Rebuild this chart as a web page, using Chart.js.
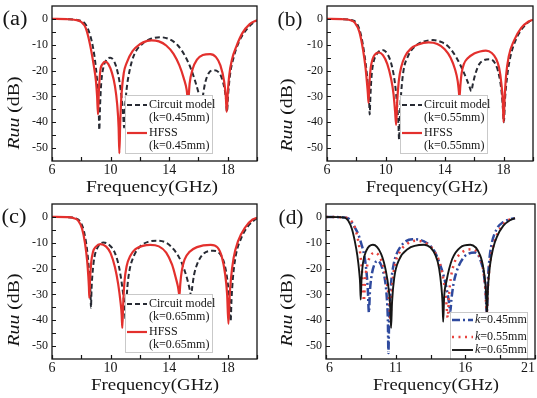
<!DOCTYPE html>
<html><head><meta charset="utf-8">
<script src="https://cdn.jsdelivr.net/npm/chart.js@4.4.1/dist/chart.umd.min.js"></script>
<style>
html,body{margin:0;padding:0;background:#fff;}
body{width:537px;height:398px;position:relative;overflow:hidden;}
canvas{position:absolute;}
</style></head>
<body>
<canvas id="ca" width="268" height="199" style="left:0;top:0"></canvas>
<canvas id="cb" width="269" height="199" style="left:268px;top:0"></canvas>
<canvas id="cc" width="268" height="200" style="left:0;top:198px"></canvas>
<canvas id="cd" width="269" height="200" style="left:268px;top:198px"></canvas>
<script>
// ---------- DATA ----------
const xMajorABC = [6, 10, 14, 18];
const xMinorABC = [8, 12, 16, 20];
const xMajorD = [6, 11, 16, 21];
const xMinorD = [8.5, 13.5, 18.5];
const yMajor = [0, -10, -20, -30, -40, -50];
const yMinor = [-5, -15, -25, -35, -45];

// (a) k = 0.45 mm
const fA_circuit = [6,7,7.8,8.2,8.5,8.8,9.0,9.12,9.19,9.23,9.28,9.36,9.5,9.7,9.98,10.25,10.5,10.68,10.8,10.87,10.92,10.98,11.1,11.3,11.6,12.2,12.8,13.4,14.0,14.6,15.1,15.5,15.8,16.0,16.15,16.22,16.3,16.45,16.7,17.0,17.35,17.6,17.78,17.88,17.95,18.02,18.15,18.4,18.8,19.3,19.8,20];
const dbA_circuit = [0,-0.1,-0.5,-1.5,-4.5,-11,-19,-27,-35,-43,-34,-25,-19,-16,-15,-16.5,-21,-27,-33,-38,-42,-35,-27,-20,-14,-9.5,-7.6,-7.1,-7.8,-10.3,-14.5,-19.5,-24.5,-28.5,-32,-33,-30,-25,-21,-19.9,-20.5,-23,-27,-31,-36,-30,-22,-15,-8.5,-4,-1.2,-0.6];
const fA_hfss = [6,7,7.6,8.0,8.3,8.6,8.85,9.0,9.08,9.14,9.2,9.3,9.45,9.64,9.85,10.1,10.3,10.45,10.55,10.6,10.66,10.75,10.9,11.1,11.5,12.0,12.5,12.8,13.3,13.8,14.3,14.7,15.0,15.2,15.3,15.4,15.6,15.9,16.3,16.8,17.2,17.5,17.75,17.87,17.93,18.0,18.1,18.3,18.6,19.0,19.5,20];
const dbA_hfss = [0,-0.1,-0.4,-1.2,-3.5,-10,-18,-24,-30,-37,-28,-20,-17.5,-16.5,-17.5,-21,-26,-33,-42,-52,-40,-29,-21,-17,-12.5,-9.8,-8.5,-8.3,-8.7,-10.3,-13.5,-18,-23,-27.5,-32,-25,-19.5,-15.8,-14,-13.6,-14.8,-18,-24,-30,-36,-29,-22,-15.5,-10.5,-5.5,-2,-0.5];

// (b) k = 0.55 mm
const fB_circuit = [6,7,7.7,8.05,8.3,8.55,8.72,8.82,8.87,8.9,8.95,9.03,9.15,9.4,9.77,10.1,10.4,10.62,10.76,10.85,10.9,10.95,11.05,11.2,11.5,12.0,12.6,13.2,13.8,14.3,14.8,15.2,15.5,15.7,15.8,15.92,16.1,16.35,16.65,17.05,17.4,17.7,17.88,17.96,18.02,18.1,18.25,18.45,18.8,19.3,19.8,20];
const dbB_circuit = [0,-0.1,-0.5,-2,-6,-14,-22,-29,-33,-37,-30,-22,-17,-13.5,-12,-13.5,-18,-25,-33,-40,-46.7,-38,-28,-20,-14.5,-10.5,-8.7,-8.2,-9,-11,-15,-19.5,-23.5,-26.5,-28,-25,-21,-17.5,-16,-15.6,-17,-22,-29,-35,-40,-31,-22,-15,-8.5,-3.5,-0.8,-0.3];
const fB_hfss = [6,7,7.6,7.9,8.2,8.45,8.62,8.72,8.78,8.82,8.88,8.97,9.1,9.25,9.5,9.8,10.1,10.35,10.52,10.63,10.7,10.77,10.88,11.05,11.3,11.7,12.2,12.9,13.5,14.0,14.4,14.7,14.88,14.96,15.0,15.06,15.15,15.3,15.6,16.0,16.4,16.8,17.2,17.5,17.7,17.85,17.95,18.0,18.07,18.17,18.35,18.7,19.2,19.7,20];
const dbB_hfss = [0,-0.1,-0.5,-1.5,-5,-12,-19,-25,-29,-32.5,-25,-19,-15.5,-13.8,-13,-14,-17.5,-23,-29,-36,-41,-32,-24,-18.5,-14.5,-11.5,-9.9,-9.1,-9.7,-11.7,-15,-19.5,-24,-28,-30.5,-26,-21,-17.5,-15,-13.4,-12.6,-12.3,-13.2,-15.5,-19,-25,-32,-40,-31,-22,-14.5,-8.5,-3.5,-1,-0.3];

// (c) k = 0.65 mm
const fC_circuit = [6,7,7.6,7.95,8.2,8.4,8.52,8.6,8.64,8.66,8.7,8.78,8.9,9.1,9.5,9.9,10.3,10.6,10.82,10.94,11.0,11.02,11.07,11.15,11.3,11.6,12.0,12.6,13.2,13.8,14.3,14.8,15.1,15.3,15.42,15.5,15.58,15.7,15.9,16.3,17.0,17.5,17.85,18.05,18.15,18.2,18.26,18.35,18.55,18.9,19.4,19.9,20];
const dbC_circuit = [0,-0.1,-0.5,-2,-6,-13,-20,-26,-31,-35.2,-28,-21,-15.5,-12,-9.9,-10.8,-14,-20,-28,-34,-38,-40,-34,-27,-20.5,-15,-11.5,-9.6,-9.2,-10,-12.5,-17,-21.5,-25.5,-28.5,-30.5,-27,-22.5,-18.5,-14.5,-13.1,-14.5,-20,-28,-35,-40.4,-32,-24,-15,-8.5,-3.5,-0.9,-0.6];
const fC_hfss = [6,7,7.5,7.8,8.05,8.25,8.4,8.48,8.52,8.55,8.6,8.68,8.8,9.0,9.3,9.7,10.0,10.3,10.52,10.68,10.76,10.8,10.86,10.95,11.1,11.35,11.7,12.2,12.7,13.3,13.8,14.2,14.45,14.6,14.67,14.7,14.76,14.86,15.05,15.4,15.9,16.84,17.3,17.6,17.82,17.96,18.05,18.12,18.22,18.4,18.7,19.2,19.7,20];
const dbC_hfss = [0,-0.1,-0.5,-1.5,-4.5,-10,-17,-23,-27,-31.3,-24,-17.5,-13.5,-11.5,-10.5,-11.5,-14,-19.5,-26,-33,-38,-43,-34,-25,-19,-15,-12.5,-11.2,-10.8,-11.4,-13.8,-18.5,-23.5,-27,-29.5,-30.6,-26,-21,-16.5,-13.5,-11.7,-10.8,-11.8,-15.5,-22,-30,-41.4,-32,-24,-16,-9.5,-4,-1,-0.3];

// (d) comparison of k
const fD_045 = [6,7,7.6,7.9,8.06,8.3,8.54,8.75,8.9,9.0,9.08,9.15,9.25,9.48,9.72,9.95,10.1,10.25,10.36,10.44,10.48,10.53,10.6,10.7,10.85,11.02,11.5,12.2,13.04,13.75,14.22,14.5,14.7,14.85,14.92,15.0,15.15,15.35,15.88,16.71,17.18,17.35,17.47,17.54,17.6,17.7,17.85,18.25,18.73,19.2,19.56];
const dbD_045 = [0,-0.1,-0.6,-2.5,-4,-6.5,-10.5,-15,-21,-28,-37,-29,-23.5,-18.3,-17,-18.5,-21,-25,-31,-40,-52.7,-40,-31,-24,-18.5,-15,-10.5,-8.6,-9.5,-13,-19,-24,-29,-34,-36.8,-32,-26,-21.5,-15.7,-13.8,-18.3,-23,-30,-37.8,-27,-18,-11.5,-4.7,-2,-0.9,-0.5];
const fD_055 = [6,7,7.5,7.8,8.0,8.2,8.4,8.55,8.65,8.72,8.8,8.95,9.15,9.48,9.8,10.1,10.35,10.5,10.58,10.62,10.68,10.78,10.95,11.3,11.8,12.45,13.2,13.8,14.2,14.45,14.62,14.74,14.82,14.95,15.2,15.7,16.47,17.0,17.25,17.42,17.54,17.62,17.8,18.1,18.5,19.0,19.56];
const dbD_055 = [0,-0.1,-0.4,-1.5,-3,-6.5,-12,-19,-26,-32.6,-25,-19,-15.5,-13.8,-15,-19,-25,-31,-36,-40,-33,-25,-18.5,-13.5,-10.5,-9.2,-10.3,-13.5,-18.5,-25,-32,-39,-31,-24,-18,-14,-12.5,-15,-19.5,-27,-37,-27,-17,-9.5,-4.5,-1.5,-0.5];
const fD_065 = [6,7,7.35,7.6,7.85,8.06,8.25,8.38,8.45,8.49,8.55,8.65,8.9,9.37,9.96,10.3,10.5,10.6,10.67,10.74,10.9,11.26,11.85,13.04,13.87,14.12,14.28,14.36,14.41,14.48,14.65,15.05,15.64,16.36,17.07,17.3,17.44,17.5,17.55,17.62,17.77,18.0,18.25,18.73,19.2,19.56];
const dbD_065 = [0,-0.1,-0.3,-1.5,-4.5,-9.2,-15,-21,-26,-32,-24,-18,-13,-10.8,-14.4,-21,-28,-34,-43,-33,-23.5,-16.4,-12.5,-10.8,-15,-20,-27,-33,-40.6,-31,-24.8,-16.4,-11.8,-10.8,-15,-20,-26,-31,-37.8,-28,-18.8,-12,-7.9,-3.4,-1.3,-0.5];

// text
const panelLabels = ['(a)', '(b)', '(c)', '(d)'];
const xTitle = 'Frequency(GHz)';
const legendA = ['Circuit model', '(k=0.45mm)', 'HFSS', '(k=0.45mm)'];
const legendB = ['Circuit model', '(k=0.55mm)', 'HFSS', '(k=0.55mm)'];
const legendC = ['Circuit model', '(k=0.65mm)', 'HFSS', '(k=0.65mm)'];
const legendD = ['=0.45mm', '=0.55mm', '=0.65mm'];

// ---------- STYLE / DRAWING ----------
const SERIF = "'Liberation Serif', 'Times New Roman', serif";
const INK = '#151515';
const styleCircuit = {color:'#272a33', width:2, dash:[5,3]};
const styleHfss = {color:'#e3302d', width:2.2, dash:[]};
const style045 = {color:'#2f4a9e', width:2.5, dash:[8,3,2,3]};
const style055 = {color:'#e8433e', width:2.5, dash:[2,4.5]};
const style065 = {color:'#161616', width:1.9, dash:[]};

function drawParts(ctx, parts, cx, cy, size, targetW, rot, leftAlign) {
  let w = 0;
  parts.forEach(p => { ctx.font = (p.italic ? 'italic ' : '') + size + 'px ' + SERIF; p.w = ctx.measureText(p.t).width; w += p.w; });
  const sx = targetW ? targetW / w : 1;
  ctx.save();
  ctx.translate(cx, cy);
  if (rot) ctx.rotate(rot);
  ctx.scale(sx, 1);
  ctx.textBaseline = 'middle'; ctx.textAlign = 'left'; ctx.fillStyle = INK;
  let xx = leftAlign ? 0 : -w / 2;
  parts.forEach(p => { ctx.font = (p.italic ? 'italic ' : '') + size + 'px ' + SERIF; ctx.fillText(p.t, xx, 0); xx += p.w; });
  ctx.restore();
}

function makePanel(cfg) {
  const deco = {
    id: 'deco_' + cfg.id,
    afterDraw(chart) {
      const {ctx, chartArea: a, scales: {x, y}} = chart;
      ctx.save();
      // legend
      const L = cfg.legend;
      ctx.fillStyle = '#fff';
      ctx.fillRect(L.x, L.y, L.w, L.h);
      ctx.strokeStyle = '#c9c9c9'; ctx.lineWidth = 1; ctx.setLineDash([]);
      ctx.strokeRect(L.x + 0.5, L.y + 0.5, L.w, L.h);
      L.items.forEach(it => {
        if (it.style) {
          ctx.strokeStyle = it.style.color; ctx.lineWidth = it.style.width;
          ctx.setLineDash(it.style.dash); ctx.beginPath();
          ctx.moveTo(it.l0, it.y); ctx.lineTo(it.l1, it.y); ctx.stroke();
          ctx.setLineDash([]);
        }
        if (it.parts) drawParts(ctx, it.parts, it.tx, it.y, L.font, null, 0, true);
      });
      // frame
      ctx.strokeStyle = INK; ctx.lineWidth = 1.3;
      ctx.strokeRect(a.left, a.top, a.right - a.left, a.bottom - a.top);
      // inward ticks
      ctx.lineWidth = 1.2;
      ctx.beginPath();
      x.ticks.forEach(t => { const px = Math.round(x.getPixelForValue(t.value)) + 0.5; ctx.moveTo(px, a.bottom); ctx.lineTo(px, a.bottom - 4); });
      y.ticks.forEach(t => { const py = Math.round(y.getPixelForValue(t.value)) + 0.5; ctx.moveTo(a.left, py); ctx.lineTo(a.left + 4, py); });
      ctx.stroke();
      // titles
      drawParts(ctx, [{t: xTitle}], cfg.xt.cx, cfg.xt.cy, 16, cfg.xt.w, 0, false);
      drawParts(ctx, [{t: 'Ruu', italic: true}, {t: ' (dB)'}], cfg.yt.cx, cfg.yt.cy, 16, 73, -Math.PI / 2, false);
      drawParts(ctx, [{t: cfg.label}], cfg.lab.cx, cfg.lab.cy, 20, 25, 0, false);
      ctx.restore();
    }
  };
  return new Chart(document.getElementById(cfg.id), {
    type: 'line',
    data: {
      datasets: cfg.series.map(s => ({
        label: s.label,
        data: s.f.map((f, i) => ({x: f, y: s.db[i]})),
        borderColor: s.style.color, borderWidth: s.style.width, borderDash: s.style.dash,
        pointRadius: 0, fill: false, cubicInterpolationMode: 'monotone', order: s.order,
        borderCapStyle: 'butt', borderJoinStyle: 'round'
      }))
    },
    options: {
      responsive: false, animation: false, devicePixelRatio: 1,
      layout: {padding: {top: 6, right: cfg.padRight, left: 0, bottom: 0}},
      plugins: {legend: {display: false}, tooltip: {enabled: false}},
      scales: {
        x: {
          type: 'linear', min: cfg.xMin, max: cfg.xMax,
          grid: {display: false, drawTicks: false}, border: {display: false},
          afterBuildTicks: sc => { sc.ticks = cfg.xMajor.concat(cfg.xMinor).sort((p, q) => p - q).map(v => ({value: v})); },
          afterFit: sc => { sc.height = cfg.xAxisH; sc.paddingLeft = 0; sc.paddingRight = 0; },
          ticks: {autoSkip: false, maxRotation: 0, minRotation: 0, padding: 1, color: INK,
            align: cfg.xAlign || 'center',
            font: {family: SERIF, size: 14},
            callback: v => cfg.xMajor.includes(v) ? String(v) : ''}
        },
        y: {
          type: 'linear', min: -55, max: 5,
          grid: {display: false, drawTicks: false}, border: {display: false},
          afterBuildTicks: sc => { sc.ticks = yMajor.concat(yMinor).sort((p, q) => p - q).map(v => ({value: v})); },
          afterFit: sc => { sc.width = cfg.yAxisW; sc.paddingTop = 0; sc.paddingBottom = 0; },
          ticks: {autoSkip: false, padding: 4, color: INK, font: {family: SERIF, size: 12},
            callback: v => yMajor.includes(v) ? String(v) : ''}
        }
      }
    },
    plugins: [deco]
  });
}

function legend2(x0, y0, labels) {
  return {
    x: x0, y: y0, w: 87, h: 58, font: 12,
    items: [
      {style: styleCircuit, l0: x0 + 2, l1: x0 + 22, y: y0 + 10, tx: x0 + 24, parts: [{t: labels[0]}]},
      {tx: x0 + 24, y: y0 + 23, parts: [{t: labels[1]}]},
      {style: styleHfss, l0: x0 + 2, l1: x0 + 22, y: y0 + 38, tx: x0 + 24, parts: [{t: labels[2]}]},
      {tx: x0 + 24, y: y0 + 51, parts: [{t: labels[3]}]}
    ]
  };
}

makePanel({
  id: 'ca', label: panelLabels[0], xMin: 6, xMax: 20, xMajor: xMajorABC, xMinor: xMinorABC,
  padRight: 11, yAxisW: 52, xAxisH: 38,
  xt: {cx: 152, cy: 188, w: 132}, yt: {cx: 15, cy: 113}, lab: {cx: 15, cy: 20},
  legend: legend2(125, 95, legendA),
  series: [
    {label: 'HFSS', f: fA_hfss, db: dbA_hfss, style: styleHfss, order: 0},
    {label: 'Circuit model', f: fA_circuit, db: dbA_circuit, style: styleCircuit, order: 1}
  ]
});
makePanel({
  id: 'cb', label: panelLabels[1], xMin: 6, xMax: 20, xMajor: xMajorABC, xMinor: xMinorABC,
  padRight: 4, yAxisW: 59, xAxisH: 38,
  xt: {cx: 159, cy: 188, w: 122}, yt: {cx: 20, cy: 115}, lab: {cx: 22, cy: 21},
  legend: legend2(132, 95, legendB),
  series: [
    {label: 'HFSS', f: fB_hfss, db: dbB_hfss, style: styleHfss, order: 0},
    {label: 'Circuit model', f: fB_circuit, db: dbB_circuit, style: styleCircuit, order: 1}
  ]
});
makePanel({
  id: 'cc', label: panelLabels[2], xMin: 6, xMax: 20, xMajor: xMajorABC, xMinor: xMinorABC,
  padRight: 11, yAxisW: 52, xAxisH: 39,
  xt: {cx: 155, cy: 188, w: 128}, yt: {cx: 15, cy: 112}, lab: {cx: 14, cy: 20},
  legend: legend2(125, 96, legendC),
  series: [
    {label: 'HFSS', f: fC_hfss, db: dbC_hfss, style: styleHfss, order: 0},
    {label: 'Circuit model', f: fC_circuit, db: dbC_circuit, style: styleCircuit, order: 1}
  ]
});
makePanel({
  id: 'cd', label: panelLabels[3], xMin: 6, xMax: 21, xMajor: xMajorD, xMinor: xMinorD,
  padRight: 2, yAxisW: 58, xAxisH: 39, xAlign: 'inner',
  xt: {cx: 168, cy: 188, w: 126}, yt: {cx: 20, cy: 112}, lab: {cx: 23, cy: 21},
  legend: {
    x: 182, y: 114, w: 77, h: 47, font: 12,
    items: [
      {style: style045, l0: 184, l1: 205, y: 122, tx: 207, parts: [{t: 'k', italic: true}, {t: legendD[0]}]},
      {style: style055, l0: 184, l1: 205, y: 139, tx: 207, parts: [{t: 'k', italic: true}, {t: legendD[1]}]},
      {style: style065, l0: 184, l1: 205, y: 152, tx: 207, parts: [{t: 'k', italic: true}, {t: legendD[2]}]}
    ]
  },
  series: [
    {label: 'k=0.65mm', f: fD_065, db: dbD_065, style: style065, order: 0},
    {label: 'k=0.55mm', f: fD_055, db: dbD_055, style: style055, order: 1},
    {label: 'k=0.45mm', f: fD_045, db: dbD_045, style: style045, order: 2}
  ]
});
</script>
</body></html>
